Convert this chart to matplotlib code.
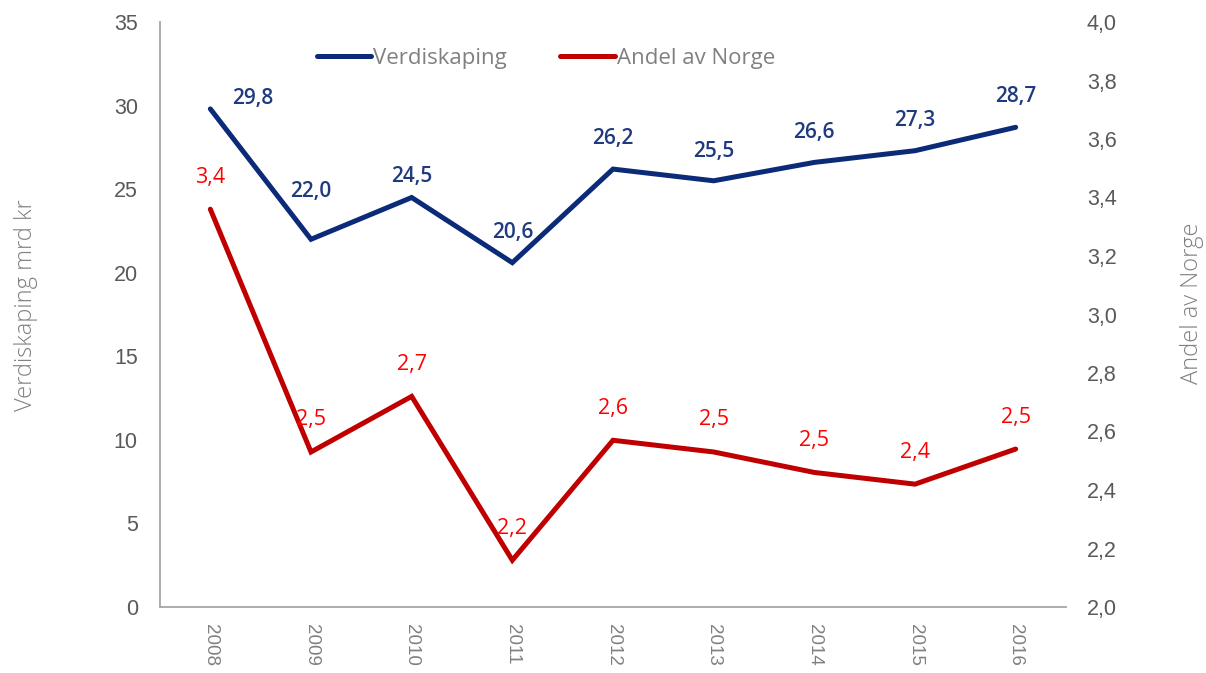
"""Verdiskaping og andel av Norge, 2008-2016."""
import matplotlib
matplotlib.use("Agg")
import matplotlib.pyplot as plt

# Data (lest av figuren)
years = ["2008", "2009", "2010", "2011", "2012", "2013", "2014", "2015", "2016"]
verdiskaping = [29.8, 22.0, 24.5, 20.6, 26.2, 25.5, 26.6, 27.3, 28.7]
andel_norge = [3.36, 2.53, 2.72, 2.16, 2.57, 2.53, 2.46, 2.42, 2.54]

BLUE = "#0b2a78"
BLUE_TXT = "#1f3a80"
RED = "#c00000"
RED_TXT = "#ff0000"
GREY_DARK = "#595959"
GREY = "#808080"

# plassering av dataetiketter (piksler)
blue_offsets = [(42, 10), (0, 48), (0, 21), (0, 30), (0, 31), (0, 29), (0, 30), (0, 30), (0, 31)]
red_offset = (0, 32)


def fmt(v):
    return f"{v:.1f}".replace(".", ",")


fig = plt.figure(figsize=(12.06, 6.73), dpi=100)
ax = fig.add_axes([160 / 1206, 1 - 607 / 673, 906 / 1206, 585 / 673])
ax2 = ax.twinx()

x = list(range(len(years)))
l1, = ax.plot(x, verdiskaping, color=BLUE, lw=3.6, solid_capstyle="round",
              solid_joinstyle="miter", label="Verdiskaping", zorder=3)
l2, = ax2.plot(x, andel_norge, color=RED, lw=3.6, solid_capstyle="round",
               solid_joinstyle="miter", label="Andel av Norge", zorder=3)

ax.set_xlim(-0.5, len(years) - 0.5)
ax.set_ylim(0, 35)
ax.set_yticks(range(0, 36, 5))
ax2.set_ylim(2.0, 4.0)
ax2.set_yticks([2.0 + 0.2 * i for i in range(11)])
ax2.set_yticklabels([fmt(2.0 + 0.2 * i) for i in range(11)])

ax.set_xticks(x)
ax.set_xticklabels(years, rotation=-90, color=GREY, fontsize=13.5,
                   family=["Liberation Sans", "DejaVu Sans"])

for a in (ax, ax2):
    for s in ("top", "right", "left"):
        a.spines[s].set_visible(False)
ax.spines["left"].set_visible(True)
ax.spines["left"].set_color("#a6a6a6")
ax.spines["bottom"].set_color("#a6a6a6")
ax.spines["left"].set_linewidth(1.3)
ax.spines["bottom"].set_linewidth(1.3)
ax2.spines["bottom"].set_visible(False)

ax.tick_params(axis="y", length=0, pad=16, labelsize=15.5, labelcolor=GREY_DARK)
ax.tick_params(axis="x", length=0, pad=12)
ax2.tick_params(axis="y", length=0, pad=15, labelsize=15.5, labelcolor=GREY_DARK)
for lab in ax.get_yticklabels() + ax2.get_yticklabels():
    lab.set_family(["Liberation Sans", "DejaVu Sans"])

# aksetitler
fig.text(26 / 1206, 1 - 305 / 673, "Verdiskaping mrd kr", rotation=90,
         ha="center", va="center", fontsize=17, color=GREY,
         family=["Open Sans", "DejaVu Sans"], fontweight="light")
fig.text(1192 / 1206, 1 - 303 / 673, "Andel av Norge", rotation=90,
         ha="center", va="center", fontsize=17, color=GREY,
         family=["Open Sans", "DejaVu Sans"], fontweight="light")

# dataetiketter
for i, v in enumerate(verdiskaping):
    ax.annotate(fmt(v), (x[i], v), xytext=blue_offsets[i], textcoords="offset pixels",
                ha="center", va="center", color=BLUE_TXT, fontsize=15,
                family=["Open Sans", "DejaVu Sans"], fontweight="semibold", zorder=4)
for i, v in enumerate(andel_norge):
    ax2.annotate(fmt(v), (x[i], v), xytext=red_offset, textcoords="offset pixels",
                 ha="center", va="center", color=RED_TXT, fontsize=15.5,
                 family=["Open Sans", "DejaVu Sans"], zorder=4)

leg = ax.legend([l1, l2], ["Verdiskaping", "Andel av Norge"], loc="center",
                bbox_to_anchor=(0.426, 0.938), ncol=2, frameon=False,
                handlelength=2.45, handletextpad=0.1, columnspacing=2.4,
                prop={"family": ["Open Sans", "DejaVu Sans"], "size": 16})
for t in leg.get_texts():
    t.set_color(GREY)

fig.savefig("out.png", dpi=100, facecolor="white")
